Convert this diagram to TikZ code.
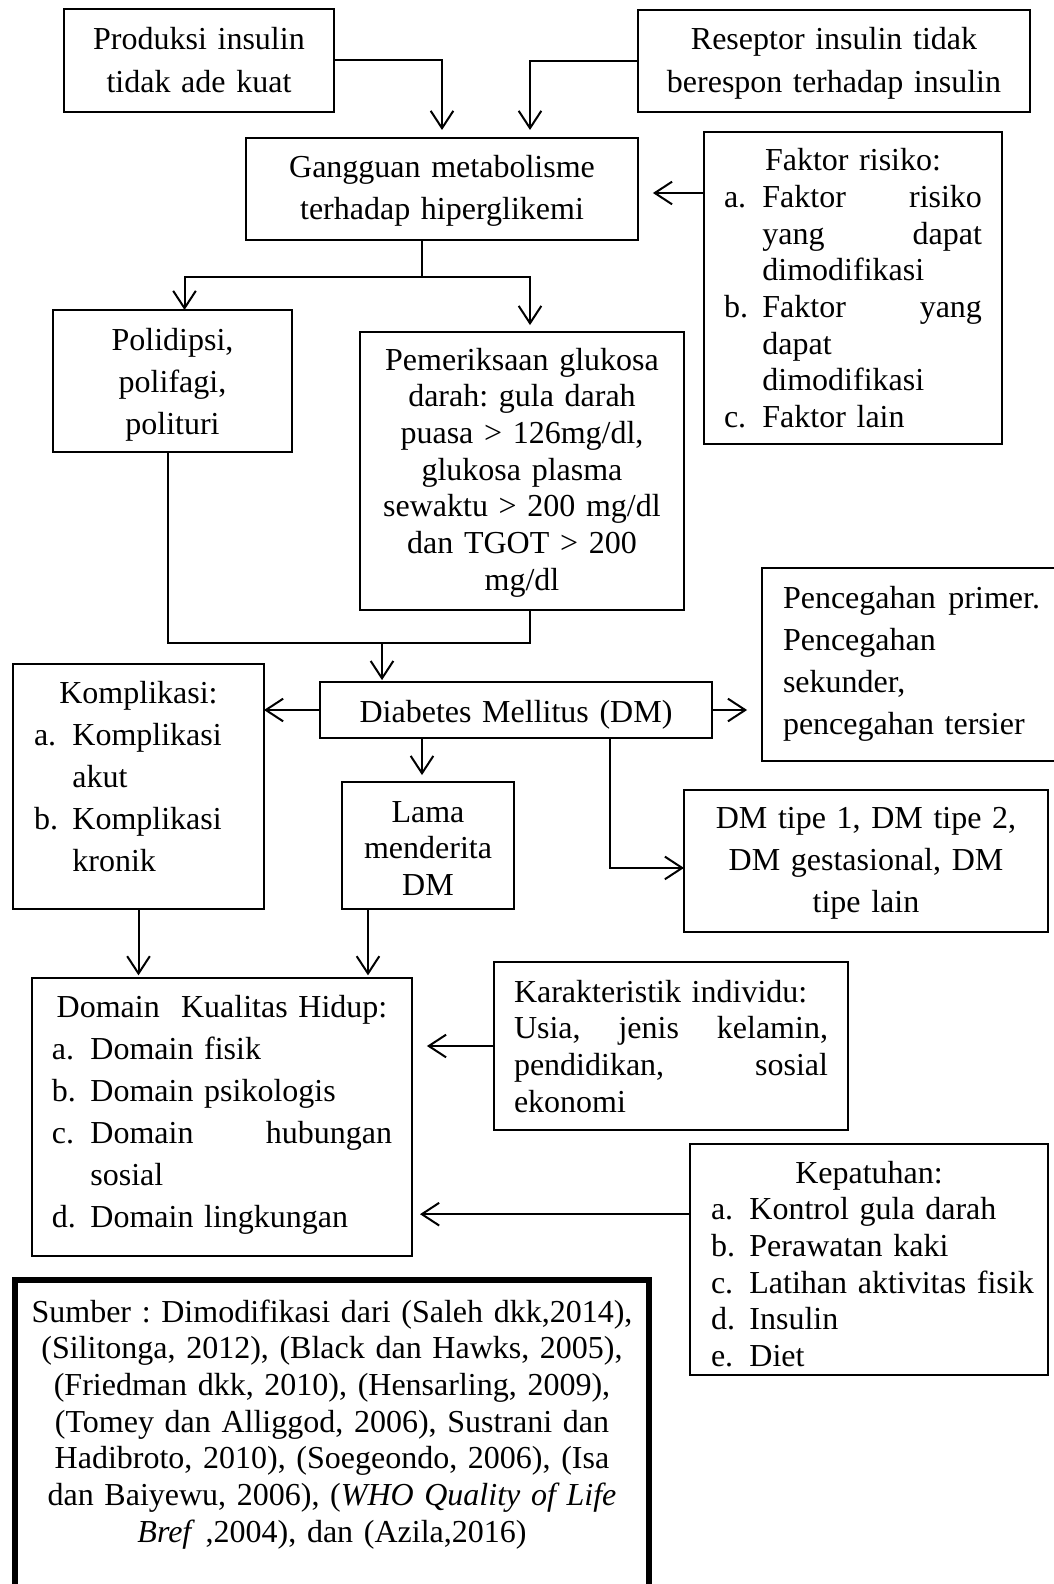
\documentclass[tikz,border=0pt]{standalone}
\usepackage{fontspec}
\setmainfont{Liberation Serif}[WordSpace=0.85]
\usetikzlibrary{arrows.meta}
\frenchspacing

\newcommand{\listlbl}[1]{\makebox[14.4pt][l]{#1}}
\newcommand{\listind}{\hspace*{14.4pt}}
\newcommand{\listhead}[1]{\hspace*{\fill}#1\hspace*{\fill}\mbox{}}

\begin{document}
\begin{tikzpicture}[x=0.375pt, y=-0.375pt,
    box/.style={draw, line width=0.4pt, anchor=north west, inner sep=0pt, outer sep=0pt,
      align=center, font=\fontsize{12}{15.8}\selectfont},
    tight/.style={font=\fontsize{12}{13.75}\selectfont},
    list/.style={align=left},
    link/.style={line width=0.75pt},
    arr/.style={line width=0.75pt, -{Straight Barb[length=6.5pt,width=8.5pt]}}]

  \useasboundingbox (0,0) rectangle (1054,1584);

  % causes
  \node[box, minimum width=101.25pt, text width=93.75pt, text height=15.375pt, text depth=23.25pt] (prod) at (64,9)
    {Produksi insulin\\tidak ade kuat}; %
  \node[box, minimum width=147pt, text width=139.5pt, text height=15pt, text depth=23.25pt] (resep) at (638,10)
    {Reseptor insulin tidak\\berespon terhadap insulin};
  \node[box, minimum width=147pt, text width=139.5pt, text height=14.625pt, text depth=23.625pt] (gang) at (246,138)
    {Gangguan metabolisme\\terhadap hiperglikemi};
  \node[box, tight, list, minimum width=111.75pt, text width=96.75pt, text height=14.625pt, text depth=102.375pt] (faktor) at (704,132)
    {\listhead{Faktor risiko:}\\
     \listlbl{a.}Faktor\hfill risiko\\
     \listind yang\hfill dapat\\
     \listind dimodifikasi\\
     \listlbl{b.}Faktor\hfill yang\\
     \listind dapat\\
     \listind dimodifikasi\\
     \listlbl{c.}Faktor lain};

  % signs and tests
  \node[box, minimum width=89.625pt, text width=82.5pt, text height=15pt, text depth=38.25pt] (poli) at (53,310)
    {Polidipsi,\\polifagi,\\polituri};
  \node[box, tight, minimum width=121.5pt, text width=116.25pt, text height=14.25pt, text depth=90pt] (periksa) at (360,332)
    {Pemeriksaan glukosa\\darah: gula darah\\puasa > 126mg/dl,\\glukosa plasma\\sewaktu > 200 mg/dl\\dan TGOT > 200\\mg/dl};

  \node[box, minimum width=147pt, text width=139.5pt, text height=15pt, text depth=6pt] (dm) at (320,682)
    {Diabetes Mellitus (DM)};
  \node[box, list, minimum width=112.125pt, text width=96.375pt, text height=15pt, text depth=57.375pt] (cegah) at (762,568)
    {Pencegahan\hfill primer.\\Pencegahan\\sekunder,\\pencegahan tersier};
  \node[box, list, minimum width=94.125pt, text width=78.375pt, text height=14.625pt, text depth=77.25pt] (kompl) at (13,664)
    {\listhead{Komplikasi:}\\
     \listlbl{a.}Komplikasi\\
     \listind akut\\
     \listlbl{b.}Komplikasi\\
     \listind kronik};
  \node[box, tight, minimum width=64.5pt, text width=60pt, text height=15pt, text depth=32.625pt] (lama) at (342,782)
    {Lama\\menderita\\DM};
  \node[box, minimum width=136.5pt, text width=131.25pt, text height=14.25pt, text depth=39pt] (tipe) at (684,790)
    {DM tipe 1, DM tipe 2,\\DM gestasional, DM\\tipe lain};

  % quality of life
  \node[box, list, minimum width=142.5pt, text width=127.5pt, text height=14.625pt, text depth=89.625pt] (domain) at (32,978)
    {\listhead{Domain\ \ Kualitas Hidup:}\\
     \listlbl{a.}\mbox{Domain fisik}\\
     \listlbl{b.}\mbox{Domain psikologis}\\
     \listlbl{c.}Domain\hfill hubungan\\
     \listind sosial\\
     \listlbl{d.}\mbox{Domain lingkungan}};
  \node[box, tight, list, minimum width=132.75pt, text width=117.75pt, text height=15pt, text depth=48pt] (karak) at (494,962)
    {\mbox{Karakteristik individu:}\\Usia,\hfill jenis\hfill kelamin,\\pendidikan,\hfill sosial\\ekonomi};
  \node[box, tight, list, minimum width=134.25pt, text width=118.5pt, text height=14.625pt, text depth=72pt] (patuh) at (690,1144)
    {\listhead{Kepatuhan:}\\
     \listlbl{a.}\mbox{Kontrol gula darah}\\
     \listlbl{b.}\mbox{Perawatan kaki}\\
     \listlbl{c.}\mbox{Latihan aktivitas fisik}\\
     \listlbl{d.}Insulin\\
     \listlbl{e.}Diet};

  \node[box, tight, line width=2.25pt, minimum width=237.75pt, text width=232.5pt, text height=15.75pt, text depth=104.25pt] (sumber) at (15,1280)
    {Sumber : Dimodifikasi dari (Saleh dkk,2014),\\
     (Silitonga, 2012), (Black dan Hawks, 2005),\\
     (Friedman dkk, 2010), (Hensarling, 2009),\\
     (Tomey dan Alliggod, 2006), Sustrani dan\\
     Hadibroto, 2010), (Soegeondo, 2006), (Isa\\
     dan Baiyewu, 2006), (\textit{WHO Quality of Life}\\
     \textit{Bref} ,2004), dan (Azila,2016)};

  % junctions
  \coordinate (gsplit) at (422,277);
  \coordinate (mleft) at (168,643);
  \coordinate (mright) at (530,643);
  \coordinate (merge) at (382,643);

  \draw[arr, shorten >=3pt] (prod.east) -| (gang.north); %
  \draw[arr, shorten >=3pt] (resep.west) -| ([xshift=33pt]gang.north);
  \draw[arr, shorten >=5.6pt] ([yshift=-1.5pt]faktor.west |- gang.east) -- ([yshift=-1.5pt]gang.east);

  \draw[link] (gang.south -| gsplit) -- (gsplit);
  \draw[arr] (gsplit) -| ([xshift=4.5pt]poli.north);
  \draw[arr, shorten >=2.6pt] (gsplit) -| ([xshift=3pt]periksa.north);

  \draw[link] (poli.south -| mleft) -- (mleft) -- (mright) -- (periksa.south -| mright);
  \draw[arr, shorten >=0.7pt] (merge) -- (merge |- dm.north);

  \draw[arr] (dm.west) -- (dm.west -| kompl.east);
  \draw[arr, shorten >=5.6pt] (dm.east) -- (dm.east -| cegah.west);
  \draw[arr, shorten >=2.6pt] ([xshift=-2.25pt]lama.north |- dm.south) -- ([xshift=-2.25pt]lama.north);
  \draw[arr] ([xshift=35.25pt]dm.south) |- ([yshift=-2.6pt]tipe.west);

  \draw[arr, shorten >=1pt] (kompl.south) -- (kompl.south |- domain.north);
  \draw[arr, shorten >=1pt] ([xshift=-22.5pt]lama.south) -- ([xshift=-22.5pt]lama.south |- domain.north);
  \draw[arr, shorten >=5.6pt] (karak.west) -- (karak.west -| domain.east);
  \draw[arr, shorten >=3pt] ([yshift=17pt]patuh.west) -- ([yshift=17pt]patuh.west -| domain.east);

\end{tikzpicture}
\end{document}
